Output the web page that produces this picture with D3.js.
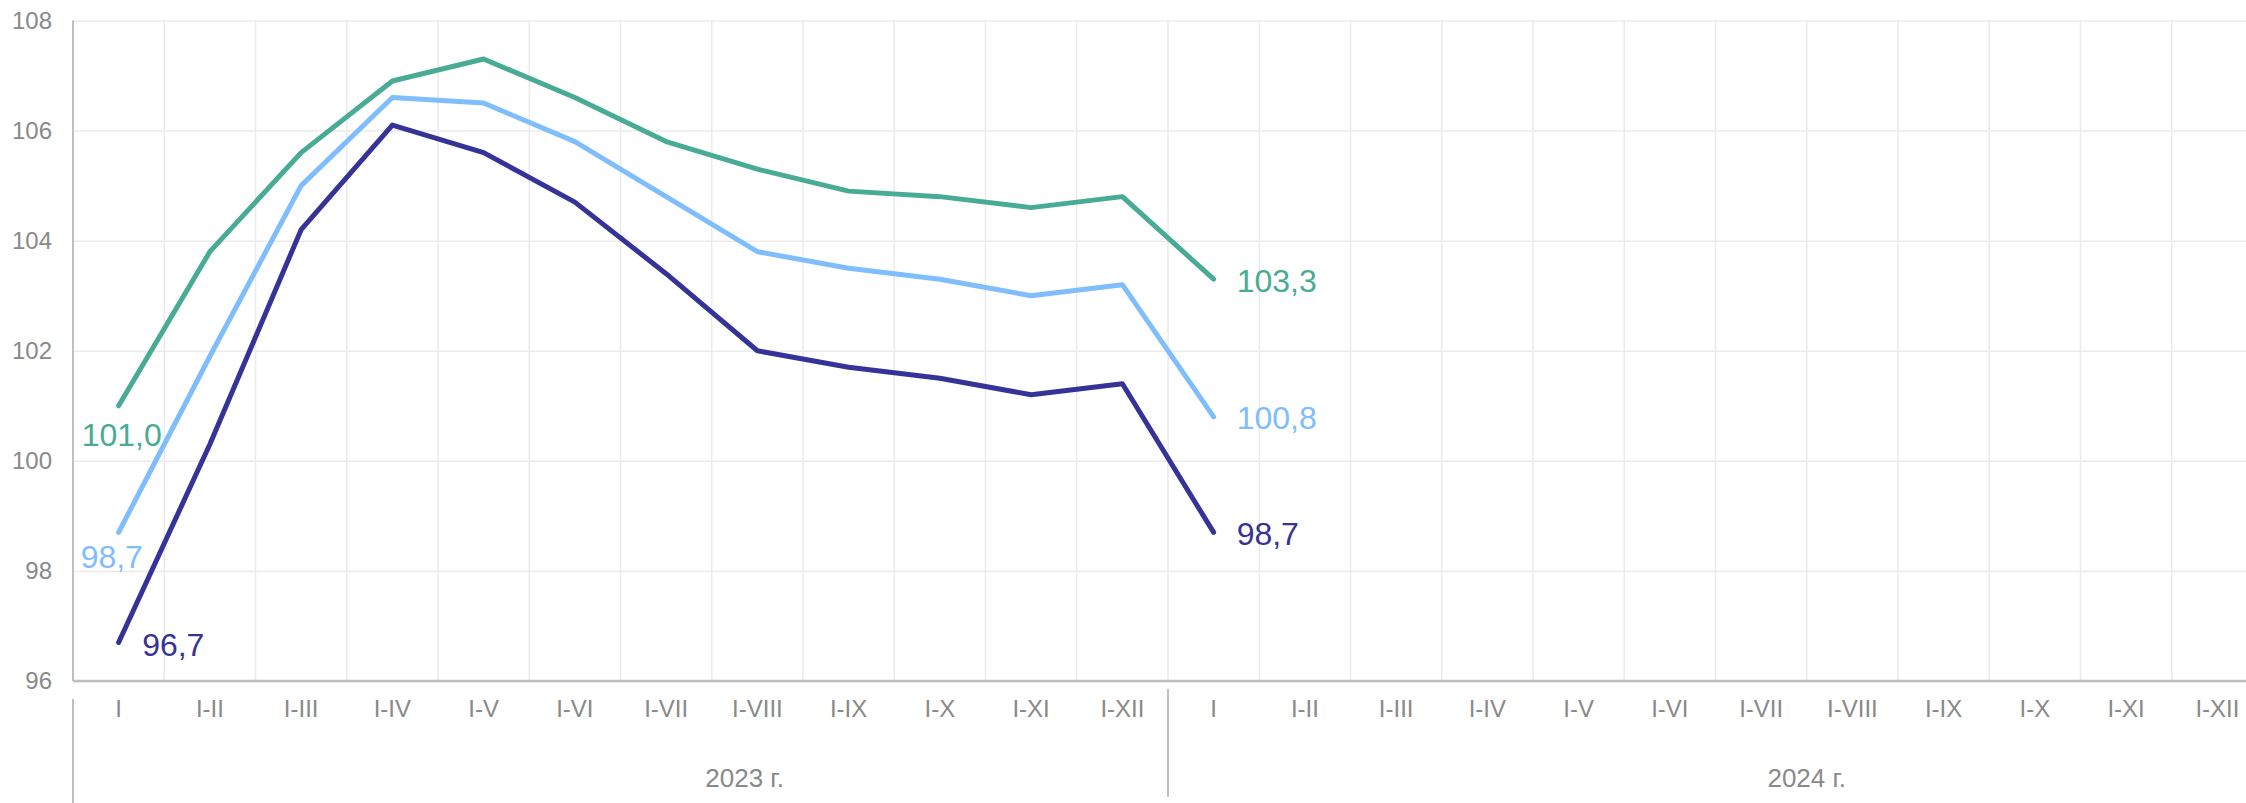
<!DOCTYPE html>
<html>
<head>
<meta charset="utf-8">
<script src="https://cdn.jsdelivr.net/npm/d3@7/dist/d3.min.js"></script>
<style>
body { margin: 0; background: #fff; overflow: hidden; }
svg { display: block; font-family: 'Liberation Sans', Arial, sans-serif; }
.grid line { stroke: #ebebeb; stroke-width: 1.5; }
.grid .domain { display: none; }
.axis text { fill: #898989; font-size: 24px; font-family: 'Liberation Sans', Arial, sans-serif; }
.axis .domain { display: none; }
.line { fill: none; stroke-width: 5; stroke-linejoin: round; stroke-linecap: round; }
.value-label { font-size: 32px; }
</style>
</head>
<body>
<svg id="chart" width="2246" height="803"></svg>
<script>
'use strict';

// data
var months = ['I', 'I-II', 'I-III', 'I-IV', 'I-V', 'I-VI', 'I-VII', 'I-VIII', 'I-IX', 'I-X', 'I-XI', 'I-XII'];
var years = ['2023 г.', '2024 г.'];
var yTicks = [96, 98, 100, 102, 104, 106, 108];

var seriesGreen = [101.0, 103.8, 105.6, 106.9, 107.3, 106.6, 105.8, 105.3, 104.9, 104.8, 104.6, 104.8, 103.3];
var seriesBlue = [98.7, 101.9, 105.0, 106.6, 106.5, 105.8, 104.8, 103.8, 103.5, 103.3, 103.0, 103.2, 100.8];
var seriesNavy = [96.7, 100.3, 104.2, 106.1, 105.6, 104.7, 103.4, 102.0, 101.7, 101.5, 101.2, 101.4, 98.7];

var margin = { LEFT: 73, TOP: 20.5 };
var STEP = 91.25;
var HEIGHT = 660.5;
var WIDTH = STEP * months.length * years.length;

var categories = [];
years.forEach(function(year, i) {
    months.forEach(function(m) {
        categories.push({ key: i + '_' + m, group: i, month: m });
    });
});

var x = d3.scaleBand()
    .domain(categories.map(function(d) { return d.key; }))
    .range([0, WIDTH])
    .padding(0);

var y = d3.scaleLinear()
    .domain([96, 108])
    .range([HEIGHT, 0]);

var formatValue = function(v) {
    return d3.format('.1f')(v).replace('.', ',');
};

var svg = d3.select('#chart').append('g')
    .attr('transform', 'translate(' + margin.LEFT + ',' + margin.TOP + ')');

// horizontal grid
svg.append('g')
    .attr('class', 'grid')
    .call(d3.axisLeft(y).tickValues(yTicks).tickSize(-WIDTH).tickFormat(''));

// vertical grid at band edges
svg.append('g')
    .attr('class', 'grid')
    .selectAll('line')
    .data(categories.slice(1))
    .enter()
    .append('line')
    .attr('x1', function(d) { return x(d.key); })
    .attr('x2', function(d) { return x(d.key); })
    .attr('y1', 0)
    .attr('y2', HEIGHT);

// y axis labels
svg.append('g')
    .attr('class', 'axis')
    .call(d3.axisLeft(y).tickValues(yTicks).tickSize(0).tickPadding(21));

// x axis labels
svg.append('g')
    .attr('class', 'axis')
    .attr('transform', 'translate(0,' + HEIGHT + ')')
    .call(d3.axisBottom(x).tickSize(0).tickPadding(19)
        .tickFormat(function(k) { return k.split('_')[1]; }));

// axis lines
svg.append('line')
    .attr('x1', 0).attr('x2', 0)
    .attr('y1', 0).attr('y2', HEIGHT)
    .attr('stroke', '#bfbfbf').attr('stroke-width', 2);

svg.append('line')
    .attr('x1', 0).attr('x2', WIDTH)
    .attr('y1', HEIGHT).attr('y2', HEIGHT)
    .attr('stroke', '#bfbfbf').attr('stroke-width', 2.5);

// year separators and labels
var groupStart = function(i) { return x(i + '_' + months[0]); };
var yearOffset = [7.36, 7.0];
var sepTop = [HEIGHT + 18, HEIGHT + 8];
var sepBottom = [803 - margin.TOP, HEIGHT + 116];

years.forEach(function(year, i) {
    svg.append('line')
        .attr('x1', groupStart(i)).attr('x2', groupStart(i))
        .attr('y1', sepTop[i]).attr('y2', sepBottom[i])
        .attr('stroke', '#bfbfbf').attr('stroke-width', 2);

    svg.append('text')
        .attr('x', groupStart(i) + yearOffset[i] * x.step())
        .attr('y', HEIGHT + 105.5)
        .attr('text-anchor', 'middle')
        .attr('fill', '#898989')
        .style('font-size', '26px')
        .text(year);
});

// lines
var series = [
    { values: seriesGreen, color: '#48ab95' },
    { values: seriesBlue, color: '#7fbdfd' },
    { values: seriesNavy, color: '#363398' }
];

// label placement for first and last points: [dx, dy, anchor]
var firstLabel = [[-37, 40, 'start'], [-38, 36, 'start'], [23.5, 13.5, 'start']];
var lastLabel = [23, 12.5, 'start'];

var line = d3.line()
    .x(function(d) { return x(d.key) + x.bandwidth() / 2; })
    .y(function(d) { return y(d.value); });

series.forEach(function(s, i) {
    var points = s.values.map(function(v, j) {
        return { key: categories[j].key, value: v };
    });

    svg.append('path')
        .datum(points)
        .attr('class', 'line')
        .style('stroke', s.color)
        .attr('d', line);

    var first = points[0];
    var last = points[points.length - 1];

    svg.append('text')
        .attr('class', 'value-label')
        .attr('x', x(first.key) + x.bandwidth() / 2 + firstLabel[i][0])
        .attr('y', y(first.value) + firstLabel[i][1])
        .attr('text-anchor', firstLabel[i][2])
        .attr('fill', s.color)
        .text(formatValue(first.value));

    svg.append('text')
        .attr('class', 'value-label')
        .attr('x', x(last.key) + x.bandwidth() / 2 + lastLabel[0])
        .attr('y', y(last.value) + lastLabel[1])
        .attr('text-anchor', lastLabel[2])
        .attr('fill', s.color)
        .text(formatValue(last.value));
});
</script>
</body>
</html>
